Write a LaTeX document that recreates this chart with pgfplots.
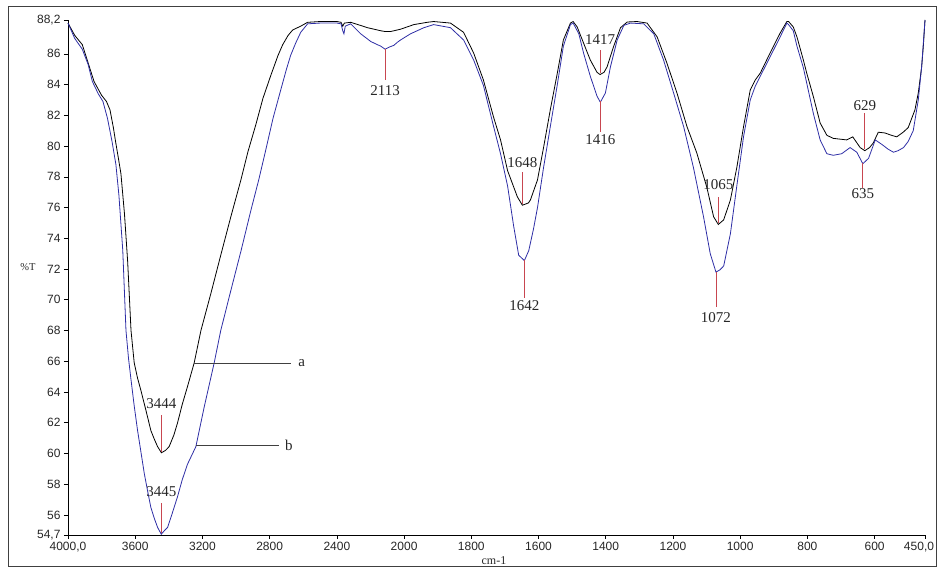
\documentclass[border=0pt]{standalone}
\usepackage{pgfplots}
\pgfplotsset{compat=1.18}
\usepackage{fontspec}
\setmainfont{Liberation Serif}
\setsansfont{Liberation Sans}
\definecolor{specblue}{RGB}{45,45,165}
\definecolor{peakred}{RGB}{200,70,80}
\begin{document}
\begin{tikzpicture}
\useasboundingbox (-68pt,-37pt) rectangle (869pt,535pt);
\draw[black!75, line width=1pt] (-59pt,-32pt) rectangle (868.5pt,528pt);
\begin{axis}[
  scale only axis, width=857pt, height=515pt,
  clip=false,
  x coord trafo/.code={\pgfmathparse{#1>1999.5 ? (4000-#1)/2 : 3000-#1}},
  xmin=4000, xmax=450, ymin=54.7, ymax=88.2,
  axis lines*=left, axis line style={-, line width=0.8pt},
  tick align=outside, major tick length=4pt,
  tick style={black, line width=0.6pt},
  xtick={4000,3600,3200,2800,2400,2000,1800,1600,1400,1200,1000,800,600},
  xticklabels={{4000,0},3600,3200,2800,2400,2000,1800,1600,1400,1200,1000,800,600},
  extra x ticks={450},
  extra x tick labels={450{,}0},
  extra x tick style={xticklabel style={xshift=-6pt}},
  ytick={54.7,56,58,60,62,64,66,68,70,72,74,76,78,80,82,84,86,88.2},
  yticklabels={{54,7},56,58,60,62,64,66,68,70,72,74,76,78,80,82,84,86,{88,2}},
  ticklabel style={font=\sffamily\fontsize{12}{12}\selectfont, text=black!85},
]
% curve a (black)
\addplot[black, line width=0.8pt] table {
x y
4000 88.0
3960 87.2
3915 86.6
3880 85.4
3845 84.2
3800 83.3
3771 82.9
3750 82.35
3730 81.2
3717 80.3
3700 79.2
3685 78.2
3664 75.6
3645 72.5
3625 68.0
3606 65.9
3586 64.9
3566 64.1
3536 62.8
3507 61.5
3485 60.9
3467 60.45
3444 60.05
3420 60.2
3398 60.45
3370 61.2
3348 62.0
3320 63.2
3289 64.35
3249 65.9
3209 68.0
3150 70.4
3091 72.9
3031 75.4
2971 77.8
2930 79.6
2882 81.4
2840 83.1
2793 84.6
2750 85.9
2722 86.6
2690 87.2
2663 87.55
2615 87.8
2574 88.05
2500 88.1
2400 88.1
2375 88.05
2365 87.8
2355 88.0
2318 88.05
2260 87.85
2218 87.7
2139 87.5
2113 87.45
2080 87.45
2021 87.6
1971 87.9
1931 88.05
1912 88.1
1862 88.0
1823 87.4
1793 86.05
1764 84.3
1734 81.9
1713 80.4
1692 78.4
1663 76.7
1648 76.15
1630 76.3
1624 76.5
1603 77.8
1585 79.9
1565 82.35
1544 84.75
1526 86.9
1505 88.0
1497 88.1
1485 87.75
1466 86.7
1446 85.6
1426 84.8
1417 84.65
1405 84.8
1396 85.15
1377 86.45
1356 87.7
1336 88.07
1307 88.1
1277 88.0
1247 87.1
1218 85.4
1188 83.45
1158 81.25
1129 79.55
1099 77.3
1079 75.4
1065 74.9
1049 75.2
1029 76.5
1010 78.6
990 81.25
970 83.65
955 84.3
940 84.75
911 86.05
881 87.35
861 88.1
856 88.1
842 87.75
831 87.1
812 85.6
802 84.75
782 83.2
762 81.5
742 80.7
723 80.5
683 80.4
665 80.6
643 79.9
629 79.7
615 79.9
604 80.2
589 80.9
569 80.85
550 80.7
534 80.6
515 80.9
500 81.2
480 82.35
470 83.45
460 85.15
455 86.5
450 88.2
};
% curve b (blue)
\addplot[specblue, line width=0.8pt] table {
x y
4000 88.0
3960 87.0
3915 86.3
3880 85.3
3855 84.2
3820 83.4
3792 82.9
3765 81.8
3738 80.3
3715 78.8
3697 76.8
3674 73.2
3655 68.0
3640 66.2
3625 64.8
3606 63.1
3586 61.5
3566 60.1
3546 58.7
3527 57.6
3507 56.5
3487 55.8
3467 55.2
3445 54.75
3425 55.0
3407 55.2
3380 56.1
3348 57.2
3320 58.3
3289 59.3
3239 60.45
3190 63.0
3130 65.9
3091 68.0
3031 70.6
2970 73.2
2912 75.8
2865 77.8
2823 79.75
2780 81.8
2734 83.65
2700 85.0
2675 85.9
2645 86.7
2615 87.4
2574 87.95
2500 88.0
2400 88.0
2375 87.95
2365 87.5
2358 87.3
2350 87.8
2318 87.95
2290 87.65
2258 87.3
2228 87.05
2198 86.8
2160 86.6
2139 86.5
2113 86.3
2085 86.45
2061 86.55
2040 86.75
2021 86.9
1981 87.3
1941 87.7
1912 87.9
1862 87.7
1823 86.9
1793 85.6
1764 83.95
1734 81.3
1713 79.5
1692 77.4
1674 74.8
1659 72.9
1642 72.55
1629 73.2
1615 74.6
1603 76.0
1585 78.6
1565 81.25
1544 84.0
1526 86.5
1505 87.9
1497 88.0
1480 87.3
1466 86.05
1446 84.55
1426 83.25
1416 82.85
1401 83.45
1386 85.15
1366 86.9
1346 87.85
1326 88.0
1287 87.95
1257 87.3
1228 85.6
1198 83.45
1168 81.25
1139 78.6
1109 75.4
1089 73.0
1072 71.8
1060 71.95
1049 72.2
1029 74.3
1010 77.4
990 80.6
970 83.0
955 83.9
940 84.55
911 85.8
881 87.1
861 88.0
856 87.9
842 87.5
831 86.5
812 85.1
782 82.1
762 80.4
742 79.5
723 79.4
698 79.5
673 79.9
653 79.6
635 78.85
618 79.2
598 80.4
578 80.1
560 79.8
544 79.6
530 79.7
514 79.9
500 80.3
485 81.0
470 83.0
460 85.15
450 88.2
};
% peak markers
\begin{scope}[peakred, line width=0.8pt]
\draw (3444,60.1) -- (3444,62.5);
\draw (3445,54.8) -- (3445,56.8);
\draw (2113,86.3) -- (2113,84.3);
\draw (1648,76.2) -- (1648,78.3);
\draw (1642,72.6) -- (1642,70.1);
\draw (1417,84.75) -- (1417,86.25);
\draw (1416,82.9) -- (1416,80.9);
\draw (1065,75.0) -- (1065,76.7);
\draw (1072,71.8) -- (1072,69.5);
\draw (629,79.8) -- (629,82.15);
\draw (635,78.9) -- (635,77.3);
\end{scope}
\begin{scope}[every node/.style={font=\fontsize{15}{15}\selectfont, text=black!85, inner sep=0pt}]
\node at (3444,63.25) {3444};
\node at (3445,57.55) {3445};
\node at (2113,83.6) {2113};
\node at (1648,78.95) {1648};
\node at (1642,69.65) {1642};
\node at (1417,86.95) {1417};
\node at (1416,80.4) {1416};
\node at (1065,77.5) {1065};
\node at (1072,68.85) {1072};
\node at (629,82.6) {629};
\node at (635,76.9) {635};
\end{scope}
% pointer lines
\draw[black!75, line width=0.8pt] (3249,65.87) -- (2675,65.87);
\draw[black!75, line width=0.8pt] (3239,60.5) -- (2746,60.5);
\node[font=\fontsize{15}{15}\selectfont, text=black!85] at (2609,65.87) {a};
\node[font=\fontsize{15}{15}\selectfont, text=black!85] at (2686,60.5) {b};
\node[font=\fontsize{10.5}{10.5}\selectfont, text=black!85] at (axis description cs:-0.0467,0.52) {\%T};
\node[font=\fontsize{12}{12}\selectfont, text=black!85] at (axis description cs:0.497,-0.0505) {cm-1};
\end{axis}
\end{tikzpicture}
\end{document}
